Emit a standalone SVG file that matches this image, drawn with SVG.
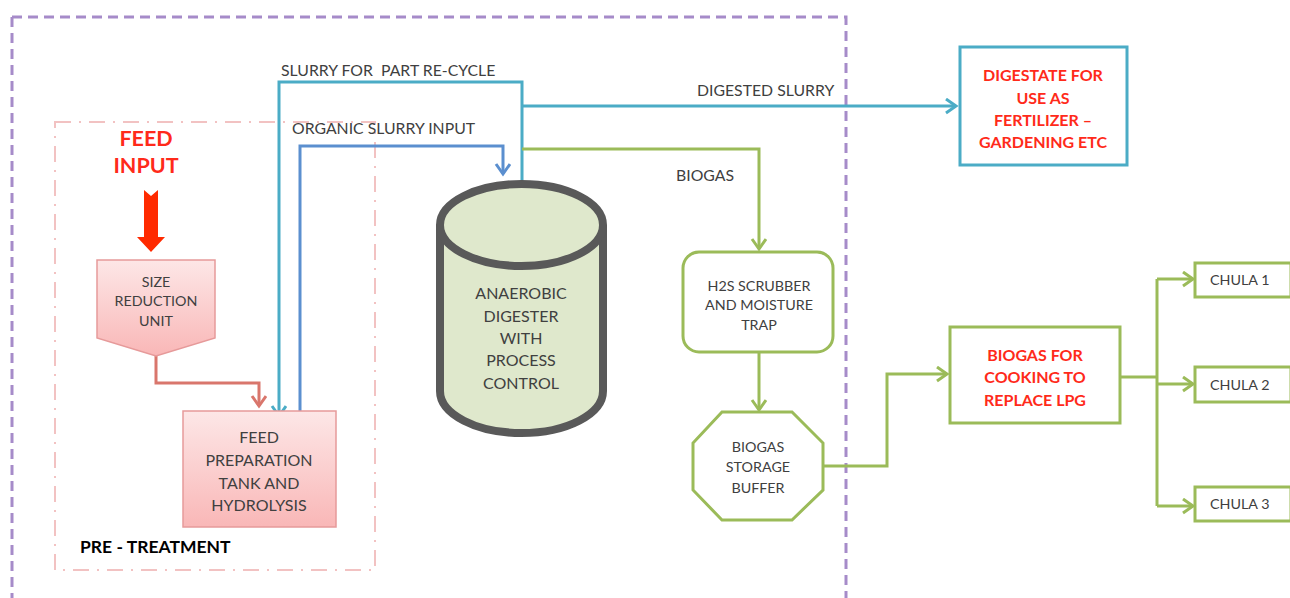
<svg xmlns="http://www.w3.org/2000/svg" width="1290" height="598" viewBox="0 0 1290 598">
<defs>
<linearGradient id="pinkGrad" x1="0" y1="0" x2="0" y2="1">
<stop offset="0" stop-color="#fde7e7"/>
<stop offset="1" stop-color="#f9b7b7"/>
</linearGradient>
<marker id="arrGreen" markerUnits="userSpaceOnUse" markerWidth="16" markerHeight="18" refX="12" refY="8" orient="auto">
<path d="M2,1 L12,8 L2,15" fill="none" stroke="#9bbb59" stroke-width="3"/>
</marker>
<marker id="arrLBlue" markerUnits="userSpaceOnUse" markerWidth="16" markerHeight="18" refX="12" refY="8" orient="auto">
<path d="M2,1 L12,8 L2,15" fill="none" stroke="#4bacc6" stroke-width="3"/>
</marker>
<marker id="arrBlue" markerUnits="userSpaceOnUse" markerWidth="16" markerHeight="18" refX="12" refY="8" orient="auto">
<path d="M2,1 L12,8 L2,15" fill="none" stroke="#5b8fcf" stroke-width="3"/>
</marker>
<marker id="arrRed" markerUnits="userSpaceOnUse" markerWidth="16" markerHeight="18" refX="12" refY="8" orient="auto">
<path d="M2,1 L12,8 L2,15" fill="none" stroke="#d9766c" stroke-width="3"/>
</marker>
</defs>
<style>
text { font-family: Lato, "Open Sans", "Liberation Sans", sans-serif; fill: #404040; }
.t { font-size: 14.3px; text-anchor: middle; }
.n { font-size: 16px; text-anchor: middle; }
.lbl { font-size: 15.8px; white-space: pre; }
.red { font-size: 16px; font-weight: bold; fill: #ff2a1a; text-anchor: middle; }
.ch { font-size: 14.3px; }
.feed { font-size: 21.5px; font-weight: bold; fill: #ff2a1a; text-anchor: middle; }
.green { fill: none; stroke: #9bbb59; stroke-width: 3; }
.lblue { fill: none; stroke: #4bacc6; stroke-width: 3; }
.blue { fill: none; stroke: #5b8fcf; stroke-width: 3; }
.redc { fill: none; stroke: #d9766c; stroke-width: 3; }
.gbox { fill: #ffffff; stroke: #9bbb59; stroke-width: 3; }
.pbox { fill: url(#pinkGrad); stroke: #e69a9a; stroke-width: 1.5; }
</style>
<rect width="1290" height="598" fill="#ffffff"/>

<g id="boundary">
<path d="M12,17 H846 V600 M12,17 V600" fill="none" stroke="#a68bc9" stroke-width="3" stroke-dasharray="10 6"/>
</g>

<g id="pretreatment">
<rect x="55" y="122" width="320" height="448" fill="none" stroke="#f2c2c2" stroke-width="2" stroke-dasharray="16 8 2 8"/>
<text x="80" y="553" style="font-size:17.5px;font-weight:bold;fill:#000">PRE - TREATMENT</text>
</g>

<g id="feed-input">
<text class="feed" x="146" y="146">FEED</text>
<text class="feed" x="146" y="173">INPUT</text>
<polygon points="144,190 151,196 158,190 158,237 165,237 151,252 137,237 144,237" fill="#ff2a00"/>
</g>

<g id="connectors">
<path class="redc" d="M156,356 V383 H259 V406" marker-end="url(#arrRed)"/>
<path class="lblue" d="M522,182 V82 H279 V416" marker-end="url(#arrLBlue)"/>
<path class="blue" d="M300,411 V146 H503 V174" marker-end="url(#arrBlue)"/>
<path class="lblue" d="M522,106 H956" marker-end="url(#arrLBlue)"/>
<path class="green" d="M522,149 H759 V249" marker-end="url(#arrGreen)"/>
<path class="green" d="M759,352 V410" marker-end="url(#arrGreen)"/>
<path class="green" d="M823,466 H887 V374 H947" marker-end="url(#arrGreen)"/>
<path class="green" d="M1120,377 H1157"/>
<path class="green" d="M1157,279 V506"/>
<path class="green" d="M1157,279 H1193" marker-end="url(#arrGreen)"/>
<path class="green" d="M1157,384 H1193" marker-end="url(#arrGreen)"/>
<path class="green" d="M1157,506 H1193" marker-end="url(#arrGreen)"/>
<text class="lbl" x="281" y="76" xml:space="preserve">SLURRY FOR  PART RE-CYCLE</text>
<text class="lbl" x="292" y="134">ORGANIC SLURRY INPUT</text>
<text class="lbl" x="697" y="96">DIGESTED SLURRY</text>
<text class="lbl" x="676" y="181">BIOGAS</text>
</g>

<g id="size-reduction">
<polygon class="pbox" points="97,260 215,260 215,338 156,356 97,338"/>
<text class="t" x="156" y="287">SIZE</text>
<text class="t" x="156" y="306">REDUCTION</text>
<text class="t" x="156" y="326">UNIT</text>
</g>

<g id="feed-preparation">
<rect class="pbox" x="183" y="411" width="153" height="116"/>
<text class="n" x="259" y="443">FEED</text>
<text class="n" x="259" y="466">PREPARATION</text>
<text class="n" x="259" y="489">TANK AND</text>
<text class="n" x="259" y="511">HYDROLYSIS</text>
</g>

<g id="digester">
<path d="M440,225 V391 A81.5,42 0 0 0 603,391 V225" fill="#dfe8cc" stroke="#595959" stroke-width="8"/>
<ellipse cx="521.5" cy="225" rx="81.5" ry="41" fill="#dfe8cc" stroke="#595959" stroke-width="8"/>
<text class="n" x="521" y="299">ANAEROBIC</text>
<text class="n" x="521" y="322">DIGESTER</text>
<text class="n" x="521" y="344">WITH</text>
<text class="n" x="521" y="366">PROCESS</text>
<text class="n" x="521" y="389">CONTROL</text>
</g>

<g id="h2s-scrubber">
<rect class="gbox" x="683" y="252" width="150" height="100" rx="16"/>
<text class="t" x="759" y="291">H2S SCRUBBER</text>
<text class="t" x="759" y="310">AND MOISTURE</text>
<text class="t" x="759" y="330">TRAP</text>
</g>

<g id="storage-buffer">
<polygon class="gbox" points="722,412 792,412 823,443 823,490 792,520 722,520 693,490 693,443"/>
<text class="t" x="758" y="452">BIOGAS</text>
<text class="t" x="758" y="472">STORAGE</text>
<text class="t" x="758" y="493">BUFFER</text>
</g>

<g id="digestate">
<rect x="960" y="47" width="167" height="118" fill="#ffffff" stroke="#4bacc6" stroke-width="3"/>
<text class="red" x="1043" y="81">DIGESTATE FOR</text>
<text class="red" x="1043" y="104">USE AS</text>
<text class="red" x="1043" y="126">FERTILIZER –</text>
<text class="red" x="1043" y="148">GARDENING ETC</text>
</g>

<g id="biogas-cooking">
<rect class="gbox" x="950" y="327" width="170" height="96"/>
<text class="red" x="1035" y="361">BIOGAS FOR</text>
<text class="red" x="1035" y="383">COOKING TO</text>
<text class="red" x="1035" y="406">REPLACE LPG</text>
</g>

<g id="chula1">
<rect class="gbox" x="1195" y="263" width="96" height="34"/>
<text class="ch" x="1210" y="285">CHULA 1</text>
</g>
<g id="chula2">
<rect class="gbox" x="1195" y="367" width="96" height="35"/>
<text class="ch" x="1210" y="390">CHULA 2</text>
</g>
<g id="chula3">
<rect class="gbox" x="1195" y="487" width="96" height="34"/>
<text class="ch" x="1210" y="509">CHULA 3</text>
</g>
</svg>
